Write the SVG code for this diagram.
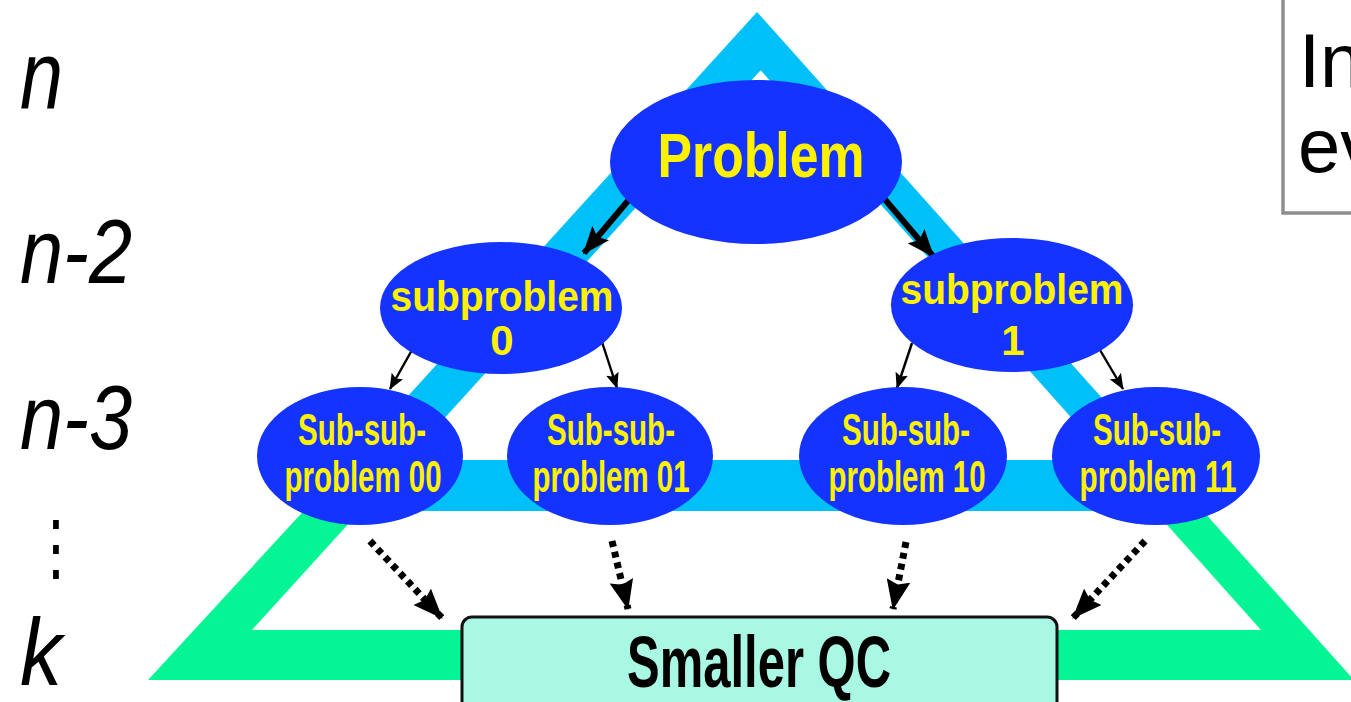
<svg xmlns="http://www.w3.org/2000/svg" width="1351" height="702" viewBox="0 0 1351 702">
<style>
.ell{fill:#1433FF;}
.yt{fill:#FFF200;font-family:"Liberation Sans",Arial,sans-serif;font-weight:bold;text-anchor:middle;}
.lbl{fill:#000;font-family:"Liberation Sans",Arial,sans-serif;font-style:italic;}
.solid{stroke:#000;fill:none;}
.dot{stroke:#000;fill:none;stroke-width:7;stroke-dasharray:6 5;}
</style>
<defs>
<marker id="ahBold" markerUnits="userSpaceOnUse" markerWidth="28" markerHeight="22" refX="26" refY="11" orient="auto"><path d="M0,0 L28,11 L0,22 L5,11 z" fill="#000"/></marker>
<marker id="ahThin" markerUnits="userSpaceOnUse" markerWidth="16" markerHeight="13" refX="15" refY="6.5" orient="auto"><path d="M0,0 L16,6.5 L0,13 L3,6.5 z" fill="#000"/></marker>
<marker id="ahDot" markerUnits="userSpaceOnUse" markerWidth="30" markerHeight="24" refX="29" refY="12" orient="auto"><path d="M0,0 L30,12 L0,24 L4,12 z" fill="#000"/></marker>
</defs>
<rect width="1351" height="702" fill="#fff"/>

<g id="triangle">
<path fill="#05F595" fill-rule="evenodd" d="M303.6,511 L1203,511 L1354,680 L148,680 Z M360.1,511 L1154.7,511 L1261,630 L252,630 Z"/>
<path fill="#00C0FA" fill-rule="evenodd" d="M757,12 L1203,511 L303.6,511 Z M760.7,70.2 L1109.1,460 L406.5,460 Z"/>
</g>

<g id="levels">
<text class="lbl" x="20" y="108" font-size="96" textLength="43" lengthAdjust="spacingAndGlyphs">n</text>
<text class="lbl" x="20" y="283" font-size="90" textLength="112" lengthAdjust="spacingAndGlyphs">n-2</text>
<text class="lbl" x="20" y="449" font-size="90" textLength="112" lengthAdjust="spacingAndGlyphs">n-3</text>
<text x="56" y="440" font-size="56" font-family="DejaVu Sans, sans-serif" text-anchor="middle" fill="#000" transform="translate(0,0) scale(1,1.3)">⋮</text>
<text class="lbl" x="20" y="685" font-size="94" textLength="42" lengthAdjust="spacingAndGlyphs">k</text>
</g>

<g id="note">
<rect x="1283" y="-10" width="100" height="223" fill="#fff" stroke="#8C8E90" stroke-width="3.5"/>
<text x="1299" y="87" font-family="Liberation Sans, Arial, sans-serif" font-size="76" fill="#000">In</text>
<text x="1298" y="172" font-family="Liberation Sans, Arial, sans-serif" font-size="76" fill="#000">ev</text>
</g>

<g id="connectors">
<line class="solid" x1="632" y1="196" x2="584" y2="253" stroke-width="6" marker-end="url(#ahBold)"/>
<line class="solid" x1="882" y1="196" x2="933" y2="256" stroke-width="6" marker-end="url(#ahBold)"/>
<line class="solid" x1="412" y1="350" x2="390" y2="389" stroke-width="2.4" marker-end="url(#ahThin)"/>
<line class="solid" x1="602" y1="342" x2="617" y2="388" stroke-width="2.4" marker-end="url(#ahThin)"/>
<line class="solid" x1="912" y1="343" x2="897" y2="388" stroke-width="2.4" marker-end="url(#ahThin)"/>
<line class="solid" x1="1100" y1="350" x2="1123" y2="389" stroke-width="2.4" marker-end="url(#ahThin)"/>
<line class="dot" x1="370" y1="541" x2="442" y2="618" marker-end="url(#ahDot)"/>
<line class="dot" x1="612" y1="541" x2="628" y2="609" marker-end="url(#ahDot)"/>
<line class="dot" x1="906" y1="542" x2="893" y2="609" marker-end="url(#ahDot)"/>
<line class="dot" x1="1145" y1="541" x2="1073" y2="618" marker-end="url(#ahDot)"/>
</g>

<g id="problem">
<ellipse class="ell" cx="756" cy="162" rx="146" ry="82"/>
<text class="yt" x="761" y="177" font-size="63" textLength="207" lengthAdjust="spacingAndGlyphs">Problem</text>
</g>

<g id="sub0">
<ellipse class="ell" cx="501" cy="308" rx="121" ry="66"/>
<text class="yt" x="502" y="311" font-size="42" textLength="223" lengthAdjust="spacingAndGlyphs">subproblem</text>
<text class="yt" x="502" y="355" font-size="42">0</text>
</g>

<g id="sub1">
<ellipse class="ell" cx="1012" cy="305" rx="121" ry="67"/>
<text class="yt" x="1012" y="304" font-size="42" textLength="223" lengthAdjust="spacingAndGlyphs">subproblem</text>
<text class="yt" x="1013" y="355" font-size="42">1</text>
</g>

<g id="ssp00">
<ellipse class="ell" cx="360" cy="456" rx="103" ry="69"/>
<text class="yt" x="362" y="445" font-size="44" textLength="128" lengthAdjust="spacingAndGlyphs">Sub-sub-</text>
<text class="yt" x="363" y="492" font-size="44" textLength="157" lengthAdjust="spacingAndGlyphs">problem 00</text>
</g>

<g id="ssp01">
<ellipse class="ell" cx="610" cy="456" rx="103" ry="69"/>
<text class="yt" x="611" y="445" font-size="44" textLength="128" lengthAdjust="spacingAndGlyphs">Sub-sub-</text>
<text class="yt" x="611" y="492" font-size="44" textLength="157" lengthAdjust="spacingAndGlyphs">problem 01</text>
</g>

<g id="ssp10">
<ellipse class="ell" cx="903" cy="456" rx="104" ry="69"/>
<text class="yt" x="906" y="445" font-size="44" textLength="128" lengthAdjust="spacingAndGlyphs">Sub-sub-</text>
<text class="yt" x="907" y="492" font-size="44" textLength="157" lengthAdjust="spacingAndGlyphs">problem 10</text>
</g>

<g id="ssp11">
<ellipse class="ell" cx="1156" cy="456" rx="104" ry="69"/>
<text class="yt" x="1157" y="445" font-size="44" textLength="128" lengthAdjust="spacingAndGlyphs">Sub-sub-</text>
<text class="yt" x="1158" y="492" font-size="44" textLength="157" lengthAdjust="spacingAndGlyphs">problem 11</text>
</g>

<g id="smallerqc">
<rect x="462" y="617" width="595" height="95" rx="10" fill="#A8F8E4" stroke="#111" stroke-width="3"/>
<text x="759" y="687" font-family="Liberation Sans, Arial, sans-serif" font-weight="bold" font-size="72" text-anchor="middle" fill="#000" textLength="264" lengthAdjust="spacingAndGlyphs">Smaller QC</text>
</g>
</svg>
